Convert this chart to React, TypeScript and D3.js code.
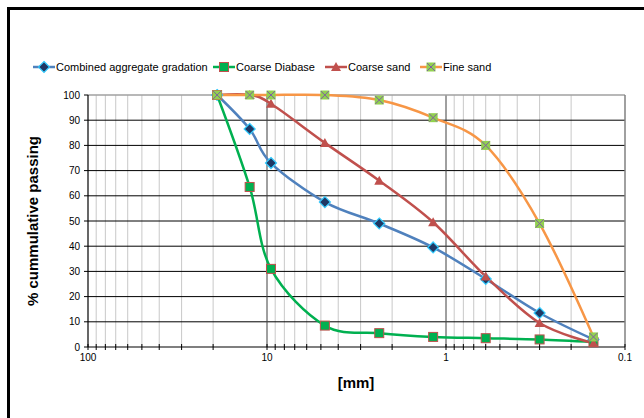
import React from "react";
import * as d3 from "d3";

const sieves = [19, 12.5, 9.5, 4.75, 2.36, 1.18, 0.6, 0.3, 0.15];
const combined = [100, 86.5, 73, 57.5, 49, 39.5, 27, 13.5, 3];
const coarseDiabase = [100, 63.5, 31, 8.5, 5.5, 4, 3.5, 3, 2];
const coarseSand = [100, 100, 96.5, 81, 66, 49.5, 28, 9.5, 1.5];
const fineSand = [100, 100, 100, 100, 98, 91, 80, 49, 4];
const yTicks = [0, 10, 20, 30, 40, 50, 60, 70, 80, 90, 100];
const xLabels = [100, 10, 1, 0.1];

const W = 644, H = 418;
const left = 88, right = 625, top = 95, bottom = 347;

const series = [
  { name: "Combined aggregate gradation", values: combined, color: "#4F81BD", marker: "diamond" },
  { name: "Coarse Diabase", values: coarseDiabase, color: "#00B050", marker: "square" },
  { name: "Coarse sand", values: coarseSand, color: "#C0504D", marker: "triangle" },
  { name: "Fine sand", values: fineSand, color: "#F79646", marker: "xsquare" },
];

const Marker = ({ type, x, y }: { type: string; x: number; y: number }) => {
  if (type === "diamond")
    return <path d={`M${x},${y - 5.5}L${x + 5.5},${y}L${x},${y + 5.5}L${x - 5.5},${y}Z`} fill="#1F3864" stroke="#33CCFF" strokeWidth={1.2} />;
  if (type === "square")
    return <rect x={x - 4.5} y={y - 4.5} width={9} height={9} fill="#00B050" stroke="#C0504D" strokeWidth={1} />;
  if (type === "triangle")
    return <path d={`M${x},${y - 5}L${x + 5},${y + 4}L${x - 5},${y + 4}Z`} fill="#C0504D" />;
  return (
    <g>
      <rect x={x - 4.5} y={y - 4.5} width={9} height={9} fill="#92D050" />
      <path d={`M${x - 4},${y - 4}L${x + 4},${y + 4}M${x + 4},${y - 4}L${x - 4},${y + 4}`} stroke="#7F60A0" strokeWidth={1} />
    </g>
  );
};

export default function App() {
  const x = d3.scaleLog().domain([100, 0.1]).range([left, right]);
  const y = d3.scaleLinear().domain([0, 100]).range([bottom, top]);
  const minor: number[] = [];
  [10, 1, 0.1].forEach((d) => {
    for (let k = 2; k <= 9; k++) minor.push(d * k);
  });
  const line = d3
    .line<number>()
    .x((_, i) => x(sieves[i]))
    .y((v) => y(v))
    .curve(d3.curveCardinal.tension(0));
  const font = "'Liberation Sans', Arial, sans-serif";
  const legendX = [33, 213, 325, 420];

  return (
    <svg width={W} height={H} style={{ position: "absolute", left: 0, top: 0 }} fontFamily={font}>
      <rect x={0} y={0} width={W} height={H} fill="#fff" />
      <path d={`M8.5,${H}V8.5H${W}`} fill="none" stroke="#000" strokeWidth={3} />

      {minor.map((m) => (
        <line key={"m" + m} x1={x(m)} x2={x(m)} y1={top} y2={bottom} stroke="#C8C8C8" strokeWidth={1} />
      ))}
      {yTicks.slice(1, -1).map((t) => (
        <line key={"h" + t} x1={left} x2={right} y1={y(t)} y2={y(t)} stroke="#000" strokeWidth={1} />
      ))}
      {[10, 1].map((d) => (
        <line key={"M" + d} x1={x(d)} x2={x(d)} y1={top} y2={bottom} stroke="#404040" strokeWidth={1} />
      ))}
      <line x1={left} x2={right} y1={top} y2={top} stroke="#A0A0A0" strokeWidth={1.5} />
      <line x1={right} x2={right} y1={top} y2={bottom} stroke="#808080" strokeWidth={1.5} />
      <line x1={left} x2={left} y1={top} y2={bottom} stroke="#000" strokeWidth={1.2} />
      <line x1={left} x2={right} y1={bottom} y2={bottom} stroke="#000" strokeWidth={1.2} />

      {yTicks.map((t) => (
        <g key={"y" + t}>
          <line x1={left - 4} x2={left} y1={y(t)} y2={y(t)} stroke="#000" />
          <text x={80} y={y(t) + 3.5} fontSize={10} textAnchor="end">{t}</text>
        </g>
      ))}
      {[...minor, ...xLabels].map((m) => (
        <line key={"xt" + m} x1={x(m)} x2={x(m)} y1={bottom - 3} y2={bottom + 3} stroke="#000" />
      ))}
      {xLabels.map((t) => (
        <text key={"xl" + t} x={x(t)} y={bottom + 14} fontSize={10} textAnchor="middle">{t}</text>
      ))}

      {series.map((s) => (
        <path key={s.name} d={line(s.values) || ""} fill="none" stroke={s.color} strokeWidth={2.5} />
      ))}
      {series.map((s) =>
        s.values.map((v, i) => <Marker key={s.name + i} type={s.marker} x={x(sieves[i])} y={y(v)} />)
      )}

      {series.map((s, i) => (
        <g key={"lg" + s.name}>
          <line x1={legendX[i]} x2={legendX[i] + 22} y1={67} y2={67} stroke={s.color} strokeWidth={2.5} />
          <Marker type={s.marker} x={legendX[i] + 11} y={67} />
          <text x={legendX[i] + 23} y={71} fontSize={11}>{s.name}</text>
        </g>
      ))}

      <text x={356} y={388} fontSize={15} fontWeight="bold" textAnchor="middle">[mm]</text>
      <text transform={`translate(38,${(top + bottom) / 2}) rotate(-90)`} fontSize={15} fontWeight="bold" textAnchor="middle">% cummulative passing</text>
    </svg>
  );
}
